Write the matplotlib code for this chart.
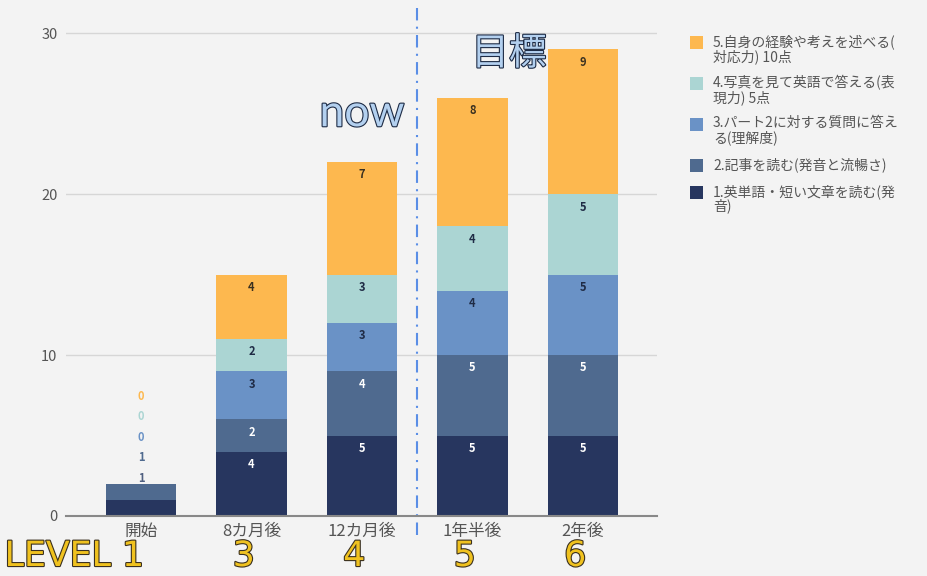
import matplotlib
matplotlib.use("Agg")
import matplotlib.pyplot as plt
import matplotlib.patheffects as pe
import matplotlib.transforms as mtransforms
from matplotlib.patches import Rectangle
import numpy as np

plt.rcParams['font.family'] = ['Noto Sans CJK JP', 'DejaVu Sans']

categories = ["開始", "8カ月後", "12カ月後", "1年半後", "2年後"]
series_names = [
    "1.英単語・短い文章を読む(発\n音)",
    "2.記事を読む(発音と流暢さ)",
    "3.パート2に対する質問に答え\nる(理解度)",
    "4.写真を見て英語で答える(表\n現力) 5点",
    "5.自身の経験や考えを述べる(\n対応力) 10点",
]
s1 = [1, 4, 5, 5, 5]
s2 = [1, 2, 4, 5, 5]
s3 = [0, 3, 3, 4, 5]
s4 = [0, 2, 3, 4, 5]
s5 = [0, 4, 7, 8, 9]
levels = ["LEVEL 1", "3", "4", "5", "6"]
yticks = [0, 10, 20, 30]

colors = ["#27365f", "#4f6a8f", "#6a92c6", "#abd5d3", "#fdb84f"]
label_colors = ["white", "white", "#1f2b45", "#1f2b45", "#3a3020"]
bg = "#f3f3f3"
W, H = 928, 576

fig = plt.figure(figsize=(9.28, 5.76), dpi=100, facecolor=bg)
ax = fig.add_axes([0.071, 0.1042, 0.637, 0.866], facecolor=bg)

x = np.arange(len(categories))
width = 0.64
bottom = np.zeros(len(categories))
all_series = [s1, s2, s3, s4, s5]
totals = np.sum(all_series, axis=0)

for k, vals in enumerate(all_series):
    vals = np.array(vals, dtype=float)
    ax.bar(x, vals, width, bottom=bottom, color=colors[k], zorder=2)
    for i, v in enumerate(vals):
        if totals[i] < 5:
            # small bar: labels stacked above it in series colour
            ax.text(x[i], totals[i] + 0.35 + k * 1.27, f"{int(v)}", ha="center", va="center",
                    fontsize=8, fontweight="bold", color=colors[k] if k > 0 else "#4f5f80", zorder=3)
        else:
            ax.text(x[i], bottom[i] + v - 0.8, f"{int(v)}", ha="center", va="center",
                    fontsize=8, fontweight="bold", color=label_colors[k], zorder=3)
    bottom += vals

ax.set_xlim(-0.68, 4.67)
ax.set_ylim(0, 31)
ax.set_yticks(yticks)
ax.set_yticklabels([str(t) for t in yticks], fontsize=10.5, color="#555555")
ax.set_xticks(x)
ax.set_xticklabels(categories, fontsize=12, color="#555555")
ax.tick_params(axis="both", length=0)
ax.tick_params(axis="y", pad=6)
ax.tick_params(axis="x", pad=5)
ax.grid(True, axis="y", color="#d6d6d6", lw=1, zorder=0)
for s in ["top", "right", "left"]:
    ax.spines[s].set_visible(False)
ax.spines["bottom"].set_color("#888888")
ax.spines["bottom"].set_linewidth(1.5)
ax.spines["bottom"].set_zorder(4)

# dividing line between now and goal
ax.plot([2.5, 2.5], [-1.2, 31.6], color="#5a8ee6", lw=1.5,
        linestyle=(0, (6, 3, 1, 3)), clip_on=False, zorder=1)

# outlined annotations
blue_fx = [pe.withStroke(linewidth=1.6, foreground="#1d2b45")]
ax.text(2.0, 25.0, "now", ha="center", va="center", fontsize=32, family="Lato",
        color="#b3d0ef", path_effects=blue_fx, zorder=5)
ax.text(3.33, 28.7, "目標", ha="center", va="center", fontsize=27,
        color="#b3d0ef", path_effects=blue_fx, zorder=5)

# level numbers under the categories
gold_fx = [pe.withStroke(linewidth=1.6, foreground="#3a3020")]
base_y = 1 - 566 / H
fig.text(0.005, base_y, levels[0], ha="left", va="baseline", fontsize=25,
         family="DejaVu Sans", color="#f0c21f", path_effects=gold_fx)
trans = mtransforms.blended_transform_factory(ax.transData, fig.transFigure)
for i, lv in enumerate(levels[1:], start=1):
    ax.text(x[i] - 0.07, base_y, lv, transform=trans, ha="center", va="baseline",
            fontsize=25, family="DejaVu Sans", color="#f0c21f",
            path_effects=gold_fx, clip_on=False)

# legend drawn by hand: square aligned with first text line
line_h, gap = 14, 27
y = 42
for k in range(4, -1, -1):
    fig.patches.append(Rectangle((690 / W, 1 - (y + 6.5) / H), 13 / W, 13 / H,
                                 transform=fig.transFigure, facecolor=colors[k],
                                 edgecolor="none"))
    fig.text(713 / W, 1 - (y - 8) / H, series_names[k], ha="left", va="top",
             fontsize=10, color="#555555", linespacing=1.0)
    y += series_names[k].count("\n") * line_h + gap

fig.savefig("out.png", dpi=100, facecolor=bg)
